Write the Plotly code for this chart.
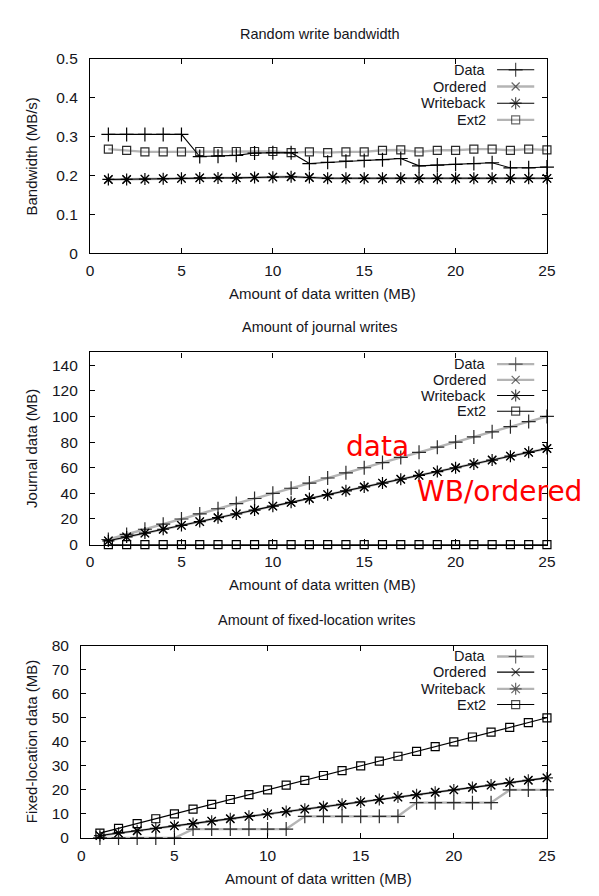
import plotly.graph_objects as go

# ---------------- data ----------------
x_mb = [1, 2, 3, 4, 5, 6, 7, 8, 9, 10, 11, 12, 13, 14, 15, 16, 17, 18, 19, 20, 21, 22, 23, 24, 25]
series_names = ["Data", "Ordered", "Writeback", "Ext2"]

bw_data = [0.306, 0.306, 0.306, 0.306, 0.306, 0.249, 0.250, 0.252, 0.258, 0.259, 0.259, 0.231, 0.234,
           0.237, 0.239, 0.241, 0.244, 0.225, 0.227, 0.229, 0.231, 0.233, 0.220, 0.220, 0.222]
bw_ordered = [0.190, 0.190, 0.191, 0.192, 0.193, 0.194, 0.194, 0.194, 0.195, 0.196, 0.197, 0.195, 0.193,
              0.193, 0.193, 0.193, 0.193, 0.193, 0.193, 0.193, 0.193, 0.193, 0.193, 0.193, 0.193]
bw_writeback = [0.190, 0.190, 0.191, 0.192, 0.193, 0.194, 0.194, 0.194, 0.195, 0.196, 0.197, 0.195, 0.193,
                0.193, 0.193, 0.193, 0.193, 0.193, 0.193, 0.193, 0.193, 0.193, 0.193, 0.193, 0.193]
bw_ext2 = [0.268, 0.265, 0.261, 0.261, 0.261, 0.262, 0.262, 0.262, 0.262, 0.262, 0.259, 0.261, 0.259,
           0.261, 0.261, 0.265, 0.266, 0.261, 0.265, 0.265, 0.268, 0.268, 0.265, 0.268, 0.266]

j_data = [4, 8, 12, 16, 20, 24, 28, 32, 36, 40, 44, 48, 52, 56, 60, 64, 68, 72, 76, 80, 84, 88, 92, 96, 100]
j_ordered = [3, 6, 9, 12, 15, 18, 21, 24, 27, 30, 33, 36, 39, 42, 45, 48, 51, 54, 57, 60, 63, 66, 69, 72, 75]
j_writeback = [3, 6, 9, 12, 15, 18, 21, 24, 27, 30, 33, 36, 39, 42, 45, 48, 51, 54, 57, 60, 63, 66, 69, 72, 75]
j_ext2 = [0, 0, 0, 0, 0, 0, 0, 0, 0, 0, 0, 0, 0, 0, 0, 0, 0, 0, 0, 0, 0, 0, 0, 0, 0]

f_data = [0, 0, 0, 0, 0, 3.7, 3.7, 3.7, 3.7, 3.7, 3.7, 9.0, 9.0, 9.0, 9.0, 9.0, 9.0,
          14.7, 14.7, 14.7, 14.7, 14.7, 20.0, 20.0, 20.0]
f_ordered = [1, 2, 3, 4, 5, 6, 7, 8, 9, 10, 11, 12, 13, 14, 15, 16, 17, 18, 19, 20, 21, 22, 23, 24, 25]
f_writeback = [1, 2, 3, 4, 5, 6, 7, 8, 9, 10, 11, 12, 13, 14, 15, 16, 17, 18, 19, 20, 21, 22, 23, 24, 25]
f_ext2 = [2, 4, 6, 8, 10, 12, 14, 16, 18, 20, 22, 24, 26, 28, 30, 32, 34, 36, 38, 40, 42, 44, 46, 48, 50]

x_ticks = [0, 5, 10, 15, 20, 25]
bw_ticks = [0, 0.1, 0.2, 0.3, 0.4, 0.5]
j_ticks = [0, 20, 40, 60, 80, 100, 120, 140]
f_ticks = [0, 10, 20, 30, 40, 50, 60, 70, 80]

panel_titles = ["Random write bandwidth", "Amount of journal writes", "Amount of fixed-location writes"]
y_titles = ["Bandwidth (MB/s)", "Journal data (MB)", "Fixed-location data (MB)"]
x_title = "Amount of data written (MB)"
note_data = "data"
note_wb = "WB/ordered"

# ---------------- styling ----------------
W, H = 599, 896
FONT = "Liberation Sans, Arial, Helvetica, sans-serif"
TXT = "#151520"
GRAY = "#b4b4b4"
BLACK = "#000000"
symbols = {"Data": "cross-thin-open", "Ordered": "x-thin-open",
           "Writeback": "asterisk-open", "Ext2": "square-open"}
msize = {"Data": 10, "Ordered": 8, "Writeback": 10, "Ext2": 8}

# panel frames in pixels: (left, right, top, bottom)
frames = [(88, 555, 51, 249), (88, 555, 350, 546), (79, 555, 649, 845)]
y_ranges = [[0, 0.5], [0, 150], [0, 80]]
y_tickvals = [bw_ticks, j_ticks, f_ticks]
y_ticktext = [["0", "0.1", "0.2", "0.3", "0.4", "0.5"], [str(v) for v in j_ticks], [str(v) for v in f_ticks]]
values = [
    {"Data": bw_data, "Ordered": bw_ordered, "Writeback": bw_writeback, "Ext2": bw_ext2},
    {"Data": j_data, "Ordered": j_ordered, "Writeback": j_writeback, "Ext2": j_ext2},
    {"Data": f_data, "Ordered": f_ordered, "Writeback": f_writeback, "Ext2": f_ext2},
]
colors = [
    {"Data": BLACK, "Ordered": GRAY, "Writeback": BLACK, "Ext2": GRAY},
    {"Data": GRAY, "Ordered": GRAY, "Writeback": BLACK, "Ext2": BLACK},
    {"Data": GRAY, "Ordered": BLACK, "Writeback": GRAY, "Ext2": BLACK},
]
legend_rows = [[62, 79, 96, 113], [362, 378, 394, 410], [660, 676, 693, 709]]


def px_x(v):
    return v / W


def px_y(v):
    return 1 - v / H


def line_style(c):
    if c == GRAY:
        return dict(color=GRAY, width=2.4)
    return dict(color=BLACK, width=1.1)


def marker_style(name, c):
    mc = "#2a2a2a" if c == GRAY else BLACK
    return dict(symbol=symbols[name], size=msize[name], color=mc, line=dict(color=mc, width=1.2))


fig = go.Figure()
layout = dict(width=W, height=H, margin=dict(l=0, r=0, t=0, b=0),
              paper_bgcolor="white", plot_bgcolor="rgba(0,0,0,0)", showlegend=False,
              font=dict(family=FONT, size=15, color=TXT))
annotations = []

for i in range(3):
    xa = "x" if i == 0 else f"x{i + 1}"
    ya = "y" if i == 0 else f"y{i + 1}"
    xkey = "xaxis" if i == 0 else f"xaxis{i + 1}"
    ykey = "yaxis" if i == 0 else f"yaxis{i + 1}"
    l, r, t, b = frames[i]
    # draw gray series first, then black series on top
    order = [n for n in series_names if colors[i][n] == GRAY] + [n for n in series_names if colors[i][n] == BLACK]
    for n in order:
        c = colors[i][n]
        fig.add_trace(go.Scatter(x=x_mb, y=values[i][n], mode="lines+markers", name=n,
                                 line=line_style(c), marker=marker_style(n, c),
                                 xaxis=xa, yaxis=ya, cliponaxis=False, hoverinfo="skip"))
    common = dict(showline=True, linecolor=BLACK, linewidth=1.4, mirror="allticks",
                  ticks="inside", ticklen=5, tickwidth=1, tickcolor=BLACK,
                  showgrid=False, zeroline=False, fixedrange=True,
                  tickfont=dict(family=FONT, size=15.5, color=TXT))
    layout[xkey] = dict(common, domain=[px_x(l), px_x(r)], range=[0, 25], anchor=ya,
                        tickvals=x_ticks, ticktext=[str(v) for v in x_ticks], ticklabelstandoff=3)
    layout[ykey] = dict(common, domain=[px_y(b), px_y(t)], range=y_ranges[i], anchor=xa,
                        tickvals=y_tickvals[i], ticktext=y_ticktext[i], ticklabelstandoff=8)
    # titles
    annotations.append(dict(text=panel_titles[i], x=px_x((l + r) / 2 + 2), y=px_y(t - 26),
                            xref="paper", yref="paper", showarrow=False, xanchor="center",
                            yanchor="middle", font=dict(family=FONT, size=14.5, color=TXT)))
    annotations.append(dict(text=x_title, x=px_x((l + r) / 2 + 4), y=px_y(b + 41),
                            xref="paper", yref="paper", showarrow=False, xanchor="center",
                            yanchor="middle", font=dict(family=FONT, size=15, color=TXT)))
    annotations.append(dict(text=y_titles[i], x=px_x(28), y=px_y((t + b) / 2),
                            xref="paper", yref="paper", showarrow=False, xanchor="center",
                            yanchor="middle", textangle=-90, font=dict(family=FONT, size=15, color=TXT)))
    # legend text
    for k, n in enumerate(series_names):
        annotations.append(dict(text=n, x=px_x(495), y=px_y(legend_rows[i][k]), xref="paper", yref="paper",
                                showarrow=False, xanchor="right", yanchor="middle",
                                font=dict(family=FONT, size=14.5, color=TXT)))

# legend samples on an overlay pixel axis covering the whole figure
for i in range(3):
    for k, n in enumerate(series_names):
        c = colors[i][n]
        yy = legend_rows[i][k]
        ms = marker_style(n, c)
        ms["size"] = [0, msize[n], 0]
        fig.add_trace(go.Scatter(x=[504, 523, 542], y=[yy, yy, yy], mode="lines+markers",
                                 line=line_style(c), marker=ms, xaxis="x4", yaxis="y4",
                                 hoverinfo="skip", showlegend=False))
layout["xaxis4"] = dict(domain=[0, 1], range=[0, W], visible=False, fixedrange=True, anchor="y4")
layout["yaxis4"] = dict(domain=[0, 1], range=[H, 0], visible=False, fixedrange=True, anchor="x4")

# red notes on panel 2
annotations.append(dict(text=note_data, x=px_x(382), y=px_y(446), xref="paper", yref="paper",
                        showarrow=False, xanchor="center", yanchor="middle",
                        font=dict(family="DejaVu Sans, Verdana, sans-serif", size=28, color="#ff0000")))
annotations.append(dict(text=note_wb, x=px_x(506), y=px_y(492), xref="paper", yref="paper",
                        showarrow=False, xanchor="center", yanchor="middle",
                        font=dict(family="DejaVu Sans, Verdana, sans-serif", size=28, color="#ff0000")))

layout["annotations"] = annotations
fig.update_layout(**layout)
fig.write_html("out.html", config={"displayModeBar": False})
